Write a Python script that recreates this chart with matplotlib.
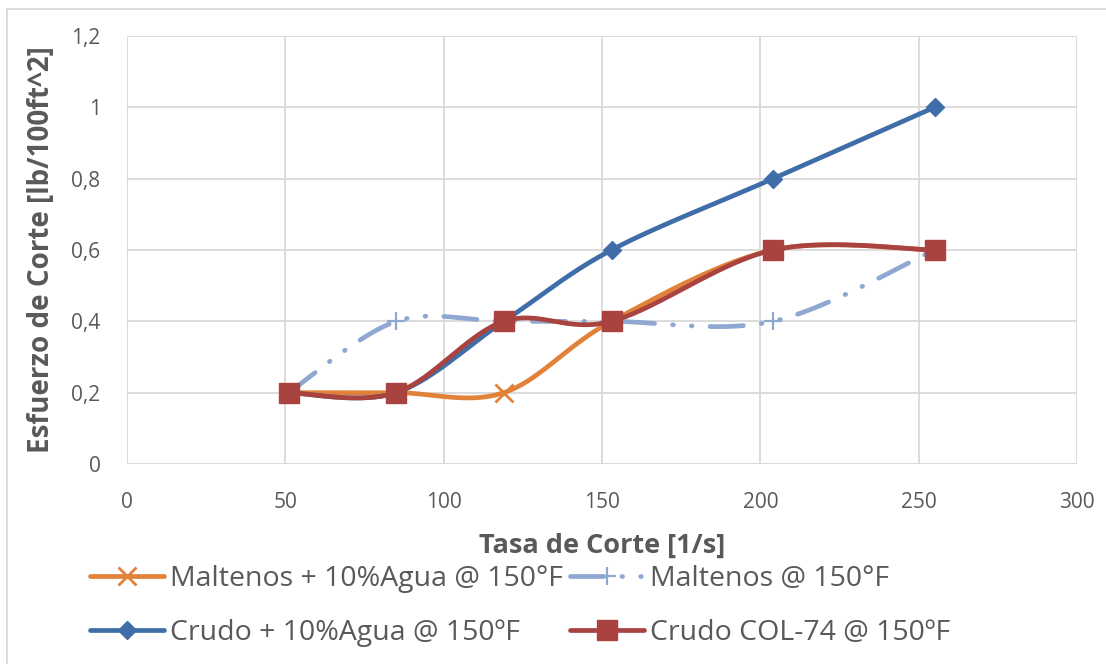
import numpy as np
import matplotlib
matplotlib.use("Agg")
import matplotlib.pyplot as plt
from matplotlib.lines import Line2D
from matplotlib.ticker import FuncFormatter

plt.rcParams['font.family'] = ['Open Sans', 'DejaVu Sans']
plt.rcParams['lines.scale_dashes'] = False

# Shear rate [1/s] and shear stress [lb/100ft^2]
shear_rate = [51, 85, 119, 153, 204, 255]
maltenos_agua = [0.2, 0.2, 0.2, 0.4, 0.6, 0.6]
maltenos = [0.2, 0.4, 0.4, 0.4, 0.4, 0.6]
crudo_agua = [0.2, 0.2, 0.4, 0.6, 0.8, 1.0]
crudo_col74 = [0.2, 0.2, 0.4, 0.4, 0.6, 0.6]

labels = ["Maltenos + 10%Agua @ 150°F", "Maltenos @ 150°F",
          "Crudo + 10%Agua @ 150ºF", "Crudo COL-74 @ 150ºF"]

x_ticks = [0, 50, 100, 150, 200, 250, 300]
y_ticks = [0, 0.2, 0.4, 0.6, 0.8, 1.0, 1.2]


def smooth(xs, ys, n=40):
    """Cubic Bezier smoothing through every point (Catmull-Rom style)."""
    p = np.column_stack([xs, ys]).astype(float)
    ext = np.vstack([p[0], p, p[-1]])
    out = []
    t = np.linspace(0, 1, n)[:, None]
    for i in range(len(p) - 1):
        p0, p1, p2, p3 = ext[i], ext[i + 1], ext[i + 2], ext[i + 3]
        c1 = p1 + (p2 - p0) / 6.0
        c2 = p2 - (p3 - p1) / 6.0
        seg = ((1 - t) ** 3) * p1 + 3 * ((1 - t) ** 2) * t * c1 \
            + 3 * (1 - t) * t ** 2 * c2 + t ** 3 * p2
        out.append(seg if i == 0 else seg[1:])
    s = np.vstack(out)
    return s[:, 0], s[:, 1]


c_orange = "#E2823A"
c_light = "#8EA8D2"
c_blue = "#3F6DA8"
c_red = "#A9433F"
lw = 3.4
dash_style = (0, (24, 13, 0.5, 13, 0.5, 13))

fig = plt.figure(figsize=(11.06, 6.64), dpi=100)
ax = fig.add_axes([127 / 1106, 1 - 464 / 664, 950 / 1106, 428 / 664])

series = [
    (maltenos_agua, c_orange, '-', 'x', 13, 2.0, c_orange),
    (maltenos, c_light, dash_style, '+', 13, 1.6, c_light),
    (crudo_agua, c_blue, '-', 'D', 9.5, 1.0, c_blue),
    (crudo_col74, c_red, '-', 's', 14, 1.0, c_red),
]
handles = []
for ys, col, ls, mk, ms, mew, mc in series:
    sx, sy = smooth(shear_rate, ys)
    ax.plot(sx, sy, color=col, lw=lw, linestyle=ls,
            solid_capstyle='round', dash_capstyle='round', zorder=3)
    ax.plot(shear_rate, ys, linestyle='none', marker=mk, ms=ms, mew=mew,
            mfc=mc, mec=mc, zorder=4)
    handles.append(Line2D([], [], color=col, lw=lw, linestyle=ls,
                          solid_capstyle='round', dash_capstyle='round',
                          marker=mk, ms=ms, mew=mew, mfc=mc, mec=mc))

ax.set_xlim(0, 300)
ax.set_ylim(0, 1.2)
ax.set_xticks(x_ticks)
ax.set_yticks(y_ticks)
ax.yaxis.set_major_formatter(FuncFormatter(
    lambda v, p: ('%g' % round(v, 1)).replace('.', ',')))
ax.grid(True, color='#D9D9D9', lw=1.3)
ax.set_axisbelow(True)
for s in ax.spines.values():
    s.set_visible(False)
ax.tick_params(length=0, labelsize=15, labelcolor='#595959')
ax.tick_params(axis='y', pad=19)
ax.tick_params(axis='x', pad=20)

fig.text(42 / 1106, 1 - 250 / 664, "Esfuerzo de Corte [lb/100ft^2]",
         rotation=90, ha='center', va='center', fontsize=20,
         fontweight='bold', color='#595959')
fig.text(602 / 1106, 1 - 546 / 664, "Tasa de Corte [1/s]",
         ha='center', va='center', fontsize=19.5, fontweight='bold',
         color='#595959')

order = [0, 2, 1, 3]
leg = fig.legend([handles[i] for i in order], [labels[i] for i in order],
                 ncol=2, loc='center', bbox_to_anchor=(520 / 1106, 1 - 606 / 664),
                 frameon=False, fontsize=20.5, handlelength=2.6,
                 handletextpad=0.2, columnspacing=0.25, labelspacing=0.9,
                 labelcolor='#595959')

# chart frame
fig.add_artist(Line2D([7 / 1106, 7 / 1106], [0, 1 - 9 / 664],
                      transform=fig.transFigure, color='#D9D9D9', lw=1.3))
fig.add_artist(Line2D([7 / 1106, 1], [1 - 9 / 664, 1 - 9 / 664],
                      transform=fig.transFigure, color='#D9D9D9', lw=1.3))

fig.savefig("out.png", dpi=100)
